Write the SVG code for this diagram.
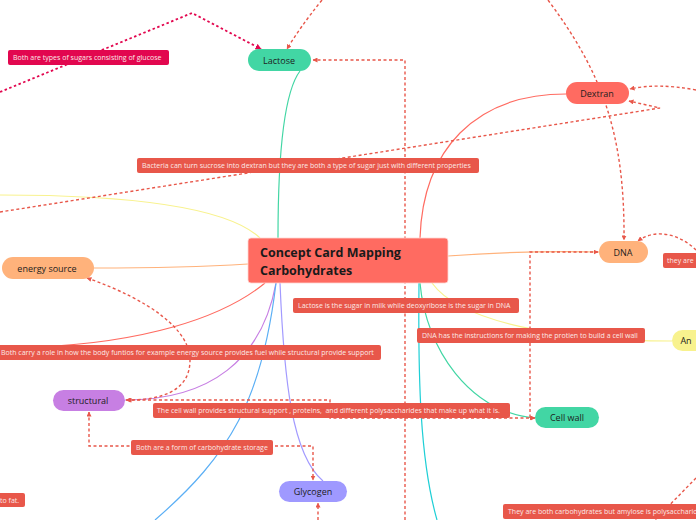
<svg xmlns="http://www.w3.org/2000/svg" width="696" height="520" viewBox="0 0 696 520">
<style>
.node text{font-family:"Open Sans","Noto Sans","Liberation Sans",sans-serif;font-size:9px;fill:#1d1d1d;text-anchor:middle;dominant-baseline:central}
.lbl rect{fill:#E8574A}
.lbl text{font-family:"Open Sans","Noto Sans","Liberation Sans",sans-serif;font-size:7px;fill:#fbe9e7}
.sol{fill:none;stroke-width:1.2}
.dash{fill:none;stroke:#E8574A;stroke-width:1.4;stroke-dasharray:3 2.5}
.crim{fill:none;stroke:#E2074F;stroke-width:1.8;stroke-dasharray:2.5 2.5}
</style>
<defs>
<marker id="ar" viewBox="0 0 10 10" refX="9" refY="5" markerWidth="5" markerHeight="5" orient="auto-start-reverse" markerUnits="userSpaceOnUse"><path d="M0,0 L10,5 L0,10 z" fill="#E8574A"/></marker>
<marker id="arc" viewBox="0 0 10 10" refX="9" refY="5" markerWidth="6" markerHeight="6" orient="auto" markerUnits="userSpaceOnUse"><path d="M0,0 L10,5 L0,10 z" fill="#E2074F"/></marker>
</defs>
<rect width="696" height="520" fill="#ffffff"/>
<g id="connectors">
<path class="sol" stroke="#42D6A4" d="M278,238 C278,150 284,92 300,71"/>
<path class="sol" stroke="#FF6B61" d="M420,238 C423,150 475,94 566,94"/>
<path class="sol" stroke="#FFB27B" d="M448,256 C500,252 550,251 599,252"/>
<path class="sol" stroke="#FFB27B" d="M248,264 C200,267 150,268 94,268"/>
<path class="sol" stroke="#F8F28E" d="M260,238 C225,205 120,195 0,195"/>
<path class="sol" stroke="#FF6B61" d="M265,283 C220,320 140,342 40,347"/>
<path class="sol" stroke="#C77FE3" d="M276,283 C262,360 210,400 125,400"/>
<path class="sol" stroke="#5BAFF5" d="M276,283 C262,400 230,455 155,520"/>
<path class="sol" stroke="#A29AFF" d="M280,283 C284,380 292,455 323,481"/>
<path class="sol" stroke="#1ECFD6" d="M419,283 C418,380 420,460 437,520"/>
<path class="sol" stroke="#42D6A4" d="M420,283 C426,350 470,412 535,418"/>
<path class="sol" stroke="#F8F28E" d="M432,283 C460,322 560,341 672,341"/>
<path class="crim" d="M0,92 L192,13 L261,49" marker-end="url(#arc)"/>
<path class="dash" d="M322,0 C306,20 296,34 287,49" marker-end="url(#ar)"/>
<path class="dash" d="M405,520 L405,60 L313,60" marker-end="url(#ar)"/>
<path class="dash" d="M0,212 L660,108 L629,101" marker-end="url(#ar)"/>
<path class="dash" d="M696,90 C670,85 648,85 630,89" marker-end="url(#ar)"/>
<path class="dash" d="M548,0 C600,70 625,130 624,240" marker-end="url(#ar)"/>
<path class="dash" d="M696,250 C680,234 655,228 638,241" marker-end="url(#ar)"/>
<path class="dash" d="M535,418 L530,418 L530,252 L598,252" marker-start="url(#ar)" marker-end="url(#ar)"/>
<path class="dash" d="M126,400 L330,400 L330,418 L534,418" marker-start="url(#ar)" marker-end="url(#ar)"/>
<path class="dash" d="M87,278 C150,300 190,330 190,360 C190,392 160,400 127,400" marker-start="url(#ar)" marker-end="url(#ar)"/>
<path class="dash" d="M89,412 L89,446 L313,446 L313,480" marker-start="url(#ar)" marker-end="url(#ar)"/>
<path class="dash" d="M318,520 L318,503" marker-end="url(#ar)"/>
<path class="dash" d="M696,478 L655,520"/>
</g>
<g id="center">
<rect x="248" y="238" width="200" height="45" rx="3" fill="#FF6B61" stroke="#ffd6d2" stroke-width="0.8"/>
<text x="260" y="257" font-family="'Open Sans','Noto Sans','Liberation Sans',sans-serif" font-size="12.5" font-weight="bold" fill="#1a1a1a">Concept Card Mapping</text>
<text x="260" y="275" font-family="'Open Sans','Noto Sans','Liberation Sans',sans-serif" font-size="12.5" font-weight="bold" fill="#1a1a1a">Carbohydrates</text>
</g>
<g id="lactose" class="node"><rect x="248" y="49" width="63" height="22" rx="11" fill="#42D6A4"/><text x="279" y="60.5">Lactose</text></g>
<g id="dextran" class="node"><rect x="566" y="82" width="63" height="22" rx="11" fill="#FF6B61"/><text x="597" y="93.5">Dextran</text></g>
<g id="dna" class="node"><rect x="599" y="241" width="49" height="22" rx="11" fill="#FFB27B"/><text x="623" y="252">DNA</text></g>
<g id="energy" class="node"><rect x="2" y="257" width="92" height="22" rx="11" fill="#FFB27B"/><text x="47" y="268">energy source</text></g>
<g id="structural" class="node"><rect x="53" y="390" width="72" height="21" rx="10.5" fill="#C77FE3"/><text x="88" y="400.5">structural</text></g>
<g id="glycogen" class="node"><rect x="279" y="481" width="68" height="21" rx="10.5" fill="#9F99FF"/><text x="313" y="491.5">Glycogen</text></g>
<g id="cellwall" class="node"><rect x="535" y="407" width="64" height="21" rx="10.5" fill="#42D6A4"/><text x="567" y="417.5">Cell wall</text></g>
<g id="amylose" class="node"><rect x="672" y="330" width="40" height="21" rx="10.5" fill="#F8F28E"/><text x="686" y="340.5" text-anchor="start">An</text></g>
<g id="lbl1" class="lbl"><rect x="8" y="50" width="161" height="15" rx="2" style="fill:#E2074F"/><text x="13" y="60">Both are types of sugars consisting of glucose</text></g>
<g id="lbl2" class="lbl"><rect x="137" y="158" width="342" height="15" rx="2"/><text x="142" y="168">Bacteria can turn sucrose into dextran but they are both a type of sugar just with different properties</text></g>
<g id="lbl3" class="lbl"><rect x="293" y="298" width="226" height="15" rx="2"/><text x="298" y="308">Lactose is the sugar in milk while deoxyribose is the sugar in DNA</text></g>
<g id="lbl4" class="lbl"><rect x="417" y="328" width="228" height="15" rx="2"/><text x="422" y="338">DNA has the instructions for making the protien to build a cell wall</text></g>
<g id="lbl5" class="lbl"><rect x="-4" y="345" width="385" height="15" rx="2"/><text x="1" y="355">Both carry a role in how the body funtios for example energy source provides fuel while structural provide support</text></g>
<g id="lbl6" class="lbl"><rect x="153" y="403" width="357" height="15" rx="2"/><text x="157" y="413" xml:space="preserve">The cell wall provides structural support , proteins,  and different polysaccharides that make up what it is.</text></g>
<g id="lbl7" class="lbl"><rect x="131" y="440" width="142" height="15" rx="2"/><text x="136" y="450">Both are a form of carbohydrate storage</text></g>
<g id="lbl8" class="lbl"><rect x="-4" y="493" width="29" height="14" rx="2"/><text x="0" y="502.5">to fat.</text></g>
<g id="lbl9" class="lbl"><rect x="663" y="253" width="40" height="15" rx="2"/><text x="667" y="263">they are</text></g>
<g id="lbl10" class="lbl"><rect x="503" y="504" width="200" height="15" rx="2"/><text x="508" y="514">They are both carbohydrates but amylose is polysaccharide</text></g>
</svg>
